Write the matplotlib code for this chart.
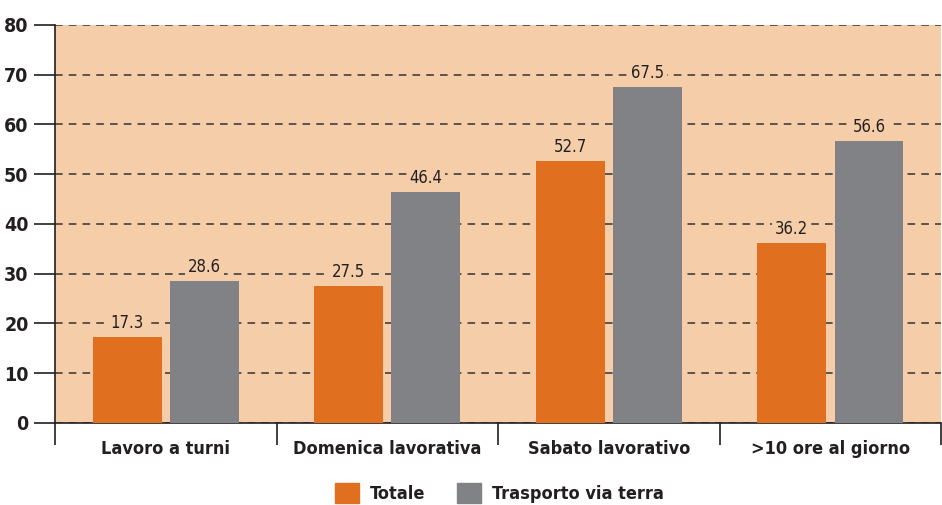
import matplotlib
matplotlib.use('Agg')
import matplotlib.pyplot as plt
import numpy as np
from matplotlib.patches import Patch
from matplotlib import font_manager

categories = ['Lavoro a turni', 'Domenica lavorativa', 'Sabato lavorativo', '>10 ore al giorno']
totale = [17.3, 27.5, 52.7, 36.2]
trasporto = [28.6, 46.4, 67.5, 56.6]
series_names = ['Totale', 'Trasporto via terra']

orange = '#E07020'
gray = '#818285'
bg = '#F5CDA9'
txt = '#231f20'

names = sorted({f.name for f in font_manager.fontManager.ttflist})
fam = 'Liberation Sans Narrow' if 'Liberation Sans Narrow' in names else 'DejaVu Sans'
plt.rcParams['font.family'] = [fam, 'DejaVu Sans']
plt.rcParams['font.stretch'] = 'condensed'

fig = plt.figure(figsize=(9.42, 5.05), dpi=100)
ax = fig.add_axes([0.0584, 0.1624, 0.9406, 0.7881])
ax.set_facecolor(bg)

x = np.arange(len(categories))
w = 0.31
off = 0.174
ax.bar(x - off, totale, w, color=orange, zorder=3)
ax.bar(x + off, trasporto, w, color=gray, zorder=3)

box = dict(facecolor=bg, edgecolor='none', pad=2)
for i in range(len(categories)):
    ax.text(x[i] - off, totale[i] + 2.8, f'{totale[i]:.1f}', ha='center', va='center',
            fontsize=12, color=txt, zorder=4, bbox=box)
    ax.text(x[i] + off, trasporto[i] + 2.8, f'{trasporto[i]:.1f}', ha='center', va='center',
            fontsize=12, color=txt, zorder=4, bbox=box)

ax.set_xlim(-0.5, 3.5)
ax.set_ylim(0, 80)
ax.set_yticks(range(0, 81, 10))
ax.yaxis.grid(True, linestyle=(0, (5, 4)), color='#333333', linewidth=1.1, zorder=1)
ax.set_axisbelow(True)

ax.set_xticks([-0.5, 0.5, 1.5, 2.5, 3.5])
ax.set_xticklabels([])
ax.set_xticks(x, minor=True)
ax.set_xticklabels(categories, minor=True, fontsize=13, fontweight='bold', color=txt)
ax.tick_params(axis='x', which='major', length=16, width=1.2, color=txt, direction='out')
ax.tick_params(axis='x', which='minor', length=0, pad=12)
ax.tick_params(axis='y', length=15, width=1.2, color=txt, labelsize=14, labelcolor=txt, pad=4)
for lab in ax.get_yticklabels():
    lab.set_fontweight('bold')

for s in ['top', 'right']:
    ax.spines[s].set_visible(False)
for s in ['left', 'bottom']:
    ax.spines[s].set_linewidth(1.2)
    ax.spines[s].set_color(txt)

handles = [Patch(color=orange), Patch(color=gray)]
leg = fig.legend(handles, series_names, loc='center', bbox_to_anchor=(0.53, 0.024), ncol=2,
                 frameon=False, handlelength=1.3, handleheight=1.3,
                 columnspacing=1.8, handletextpad=0.6, prop={'weight': 'bold', 'size': 13})
for t in leg.get_texts():
    t.set_color(txt)

fig.savefig('out.png', dpi=100)
